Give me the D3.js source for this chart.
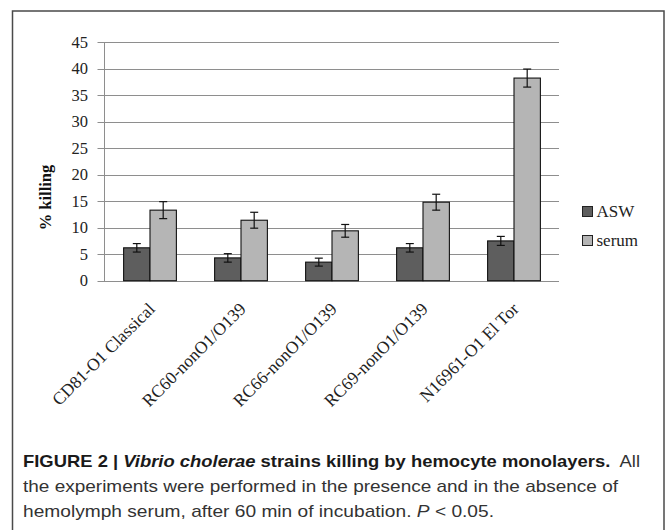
<!DOCTYPE html>
<html>
<head>
<meta charset="utf-8">
<script src="https://cdn.jsdelivr.net/npm/d3@7"></script>
<style>
  html, body { margin: 0; padding: 0; background: #fff; }
  svg { display: block; }
</style>
</head>
<body>
<svg id="chart" width="667" height="530"></svg>
<script>
// Strains tested and % killing (mean ± error) for each condition
const strains = ["CD81-O1 Classical", "RC60-nonO1/O139", "RC66-nonO1/O139", "RC69-nonO1/O139", "N16961-O1 El Tor"];
const seriesNames = ["ASW", "serum"];
const aswValues = [6.2, 4.3, 3.5, 6.2, 7.5];
const aswErrors = [0.8, 0.8, 0.75, 0.8, 0.85];
const serumValues = [13.3, 11.4, 9.4, 14.8, 38.2];
const serumErrors = [1.6, 1.5, 1.2, 1.5, 1.7];
const yTicks = [0, 5, 10, 15, 20, 25, 30, 35, 40, 45];
const yLabel = "% killing";

const fills = { ASW: "#5e5e5e", serum: "#b5b5b5" };
const serif = "'Liberation Serif', 'Times New Roman', serif";
const sans = "'Liberation Sans', Arial, sans-serif";

const svg = d3.select("#chart");

// outer figure frame
svg.append("rect")
  .attr("x", 12.5).attr("y", 11).attr("width", 651.5).attr("height", 540)
  .attr("fill", "none").attr("stroke", "#4a4a4a").attr("stroke-width", 1.5);

const plot = { left: 104, right: 559, top: 42, bottom: 280.7 };

const x0 = d3.scaleBand().domain(strains)
  .range([plot.left, plot.right]).paddingInner(0.42).paddingOuter(0.21);
const x1 = d3.scaleBand().domain(seriesNames).range([0, x0.bandwidth()]).padding(0);
const y = d3.scaleLinear().domain([0, 45]).range([plot.bottom, plot.top]);

// gridlines (extend a little left of the axis as tick marks)
svg.append("g").selectAll("line").data(yTicks).join("line")
  .attr("x1", plot.left - 6.5).attr("x2", plot.right)
  .attr("y1", d => Math.round(y(d)) + 0.5).attr("y2", d => Math.round(y(d)) + 0.5)
  .attr("stroke", "#8e8e8e").attr("stroke-width", 1);

// y axis
const yAxis = svg.append("g")
  .attr("transform", `translate(${plot.left},0)`)
  .call(d3.axisLeft(y).tickValues(yTicks).tickSize(0).tickPadding(16));
yAxis.attr("font-family", null).attr("font-size", null);
yAxis.select(".domain").attr("stroke", "#8e8e8e").attr("d", `M0.5,${y(45)}V${y(0) + 0.5}`);
yAxis.selectAll("text")
  .style("font-family", serif).style("font-size", "16.5px").attr("fill", "#222");

// y axis title
svg.append("text")
  .attr("transform", `translate(51,197.5) rotate(-90)`)
  .attr("text-anchor", "middle")
  .style("font-family", serif).style("font-weight", "bold").style("font-size", "16.5px")
  .attr("fill", "#111")
  .text(yLabel);

// bars
const rows = strains.map((s, i) => ({
  strain: s,
  items: [
    { key: "ASW", value: aswValues[i], err: aswErrors[i] },
    { key: "serum", value: serumValues[i], err: serumErrors[i] }
  ]
}));

const groups = svg.append("g").selectAll("g").data(rows).join("g")
  .attr("transform", d => `translate(${x0(d.strain)},0)`);

groups.selectAll("rect").data(d => d.items).join("rect")
  .attr("x", d => x1(d.key) + 0.5)
  .attr("y", d => y(d.value))
  .attr("width", x1.bandwidth())
  .attr("height", d => y(0) - y(d.value))
  .attr("fill", d => fills[d.key])
  .attr("stroke", "#111").attr("stroke-width", 1.1);

// error bars
const eb = groups.selectAll("g.err").data(d => d.items).join("g").attr("class", "err")
  .attr("transform", d => `translate(${x1(d.key) + x1.bandwidth() / 2 + 0.5},0)`);
eb.append("line")
  .attr("x1", 0).attr("x2", 0)
  .attr("y1", d => y(d.value + d.err)).attr("y2", d => y(d.value - d.err))
  .attr("stroke", "#111").attr("stroke-width", 1.2);
eb.append("line")
  .attr("x1", -4).attr("x2", 4)
  .attr("y1", d => y(d.value + d.err)).attr("y2", d => y(d.value + d.err))
  .attr("stroke", "#111").attr("stroke-width", 1.2);
eb.append("line")
  .attr("x1", -4).attr("x2", 4)
  .attr("y1", d => y(d.value - d.err)).attr("y2", d => y(d.value - d.err))
  .attr("stroke", "#111").attr("stroke-width", 1.2);

// category labels, rotated
svg.append("g").selectAll("text").data(strains).join("text")
  .attr("transform", d => `translate(${x0(d) + x0.bandwidth() / 2 + 2},${plot.bottom + 25}) rotate(-45)`)
  .attr("text-anchor", "end")
  .attr("dy", "0.35em")
  .style("font-family", serif).style("font-size", "17.5px").attr("fill", "#222")
  .text(d => d);

// legend
const legend = svg.append("g").attr("transform", "translate(582.5,206.5)");
const li = legend.selectAll("g").data(seriesNames).join("g")
  .attr("transform", (d, i) => `translate(0,${i * 29})`);
li.append("rect").attr("width", 10).attr("height", 10)
  .attr("fill", d => fills[d]).attr("stroke", "#222").attr("stroke-width", 1);
li.append("text").attr("x", 14).attr("y", 10.5)
  .style("font-family", serif).style("font-size", "17px").attr("fill", "#222")
  .text(d => d);

// figure caption
const cap = svg.append("g").style("font-family", sans).style("font-size", "17px");
const l1 = cap.append("text").attr("x", 23).attr("y", 466.5).attr("fill", "#1a1a1a");
l1.append("tspan").attr("font-weight", "bold").text("FIGURE 2 | ");
l1.append("tspan").attr("font-weight", "bold").attr("font-style", "italic").text("Vibrio cholerae");
l1.append("tspan").attr("font-weight", "bold").text(" strains killing by hemocyte monolayers.");
l1.append("tspan").attr("fill", "#333").text("\u00a0 All");
const l2 = cap.append("text").attr("x", 23).attr("y", 492).attr("fill", "#333")
  .text("the experiments were performed in the presence and in the absence of");
const l3 = cap.append("text").attr("x", 23).attr("y", 517).attr("fill", "#333");
l3.append("tspan").text("hemolymph serum, after 60 min of incubation. ");
l3.append("tspan").attr("font-style", "italic").text("P");
l3.append("tspan").text(" < 0.05.");

// fit caption lines to their set widths
[[l1, 617], [l2, 595], [l3, 471]].forEach(([t, w]) => {
  t.attr("textLength", w).attr("lengthAdjust", "spacingAndGlyphs");
});
</script>
</body>
</html>
